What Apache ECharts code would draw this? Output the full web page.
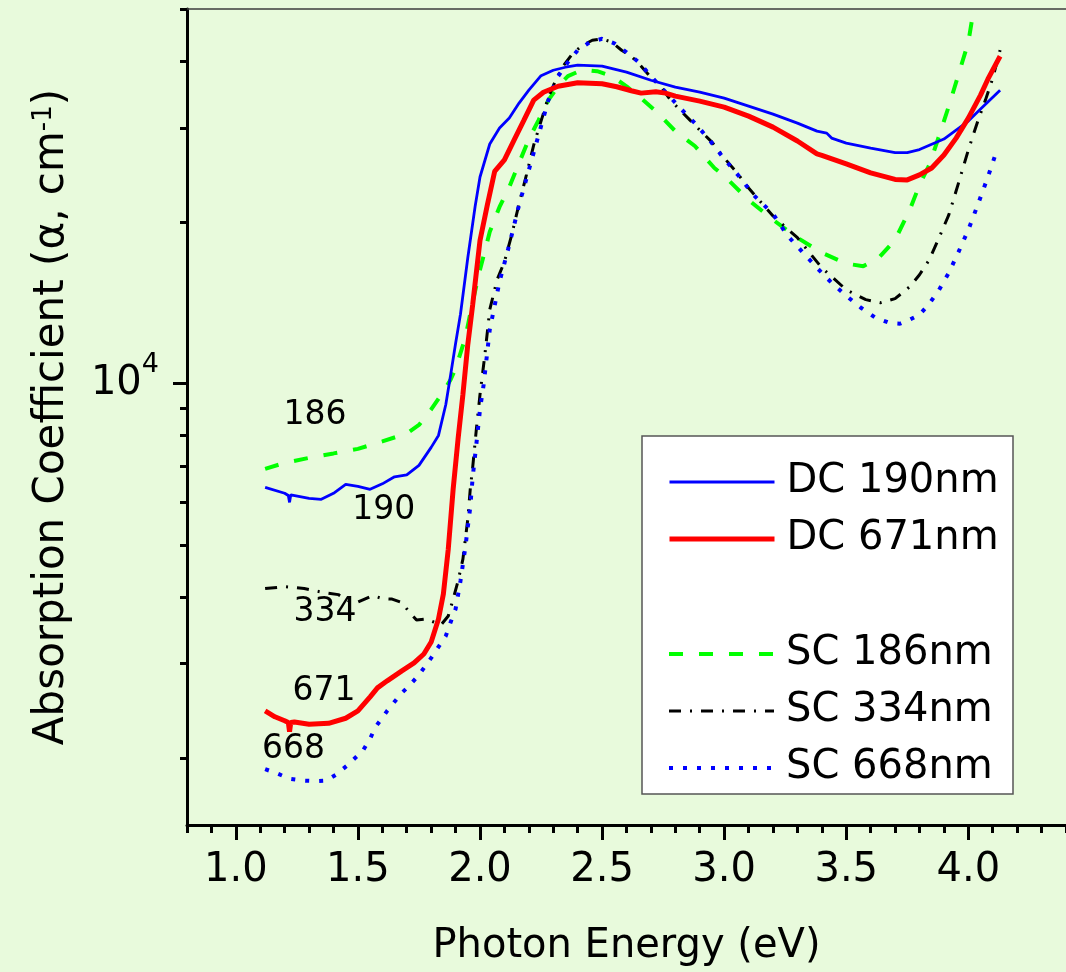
<!DOCTYPE html>
<html>
<head>
<meta charset="utf-8">
<script src="https://cdn.jsdelivr.net/npm/echarts@6/dist/echarts.min.js"></script>
<style>
html,body{margin:0;padding:0;background:#e8fadc;}
#chart{width:1066px;height:972px;}
</style>
</head>
<body>
<div id="chart"></div>
<script>
// ---- data (photon energy in eV, absorption coefficient in cm^-1) ----
const dc190E = [1.12,1.2,1.215,1.22,1.225,1.3,1.35,1.4,1.45,1.5,1.55,1.6,1.65,1.7,1.75,1.8,1.83,1.86,1.88,1.9,1.92,1.95,1.98,2.0,2.04,2.08,2.12,2.16,2.2,2.25,2.3,2.35,2.4,2.5,2.6,2.7,2.8,2.9,3.0,3.1,3.2,3.3,3.38,3.42,3.44,3.5,3.6,3.7,3.75,3.8,3.9,4.0,4.05,4.13];
const dc190A = [6400,6240,6180,6000,6200,6107,6081,6240,6484,6430,6347,6498,6697,6754,7035,7601,8002,9138,10394,11875,13470,17170,21400,24290,27990,29980,31290,33370,35280,37540,38430,38930,39270,39100,38110,36810,35730,34970,34080,32930,31820,30620,29580,29330,28710,28100,27510,26980,26980,27330,28590,30890,32520,35280];

const dc671E = [1.12,1.16,1.2,1.215,1.22,1.225,1.24,1.3,1.38,1.45,1.5,1.55,1.58,1.62,1.68,1.73,1.77,1.8,1.83,1.85,1.87,1.89,1.91,1.93,1.95,1.97,2.0,2.03,2.06,2.1,2.14,2.18,2.22,2.26,2.32,2.4,2.5,2.56,2.62,2.66,2.72,2.76,2.8,2.9,3.0,3.1,3.2,3.3,3.38,3.4,3.5,3.6,3.7,3.75,3.8,3.85,3.9,3.95,4.0,4.05,4.08,4.13];
const dc671A = [2450,2388,2348,2330,2240,2330,2336,2312,2322,2373,2450,2602,2704,2787,2909,3010,3128,3294,3635,4047,4908,6347,7866,9539,11820,14030,18490,21540,24880,26140,28480,31010,33800,34970,35870,36410,36260,35800,35190,34830,35050,34830,34380,33650,32800,31550,30100,28350,26820,26650,25690,24720,24040,23990,24510,25250,26700,28710,31290,34540,36980,40810];

const sc186E = [1.12,1.2,1.3,1.4,1.5,1.6,1.7,1.75,1.8,1.85,1.88,1.9,1.94,1.97,2.0,2.04,2.08,2.12,2.16,2.2,2.24,2.28,2.32,2.36,2.42,2.48,2.54,2.6,2.66,2.72,2.8,2.88,2.96,3.0,3.1,3.2,3.3,3.4,3.5,3.57,3.63,3.7,3.76,3.8,3.84,3.88,3.92,3.96,4.0,4.02,4.05];
const sc186A = [6931,7112,7266,7406,7551,7798,8070,8369,8945,9663,10172,10665,12180,14210,16310,19190,21360,23280,25800,28590,31010,33800,35870,37460,38520,38270,37460,35870,34080,32240,29580,27750,25250,24400,22010,20210,18710,17540,16740,16560,17100,18540,21090,23480,25580,28960,32930,37780,43360,49290,58000];

const sc334E = [1.12,1.2,1.28,1.35,1.42,1.47,1.5,1.56,1.6,1.64,1.68,1.71,1.74,1.78,1.81,1.84,1.87,1.89,1.91,1.93,1.94,1.95,1.96,1.97,1.985,2.0,2.02,2.04,2.07,2.1,2.13,2.16,2.19,2.22,2.25,2.28,2.31,2.34,2.38,2.42,2.46,2.5,2.54,2.58,2.62,2.66,2.7,2.74,2.78,2.82,2.86,2.9,2.95,3.0,3.05,3.1,3.2,3.3,3.4,3.5,3.58,3.64,3.7,3.76,3.8,3.84,3.88,3.92,3.96,4.0,4.04,4.07,4.1,4.13];
const sc334A = [4143,4178,4143,4081,4037,3910,3910,4020,3968,3960,3901,3747,3620,3635,3589,3542,3682,3960,4279,4701,5122,5581,6347,6976,8209,9539,11320,13740,15620,16870,18950,21640,24500,27870,30890,34230,36810,39100,41340,42780,43710,43990,43360,41880,40810,39100,37290,35870,33800,32370,31010,29720,28220,26370,24820,23170,20550,18710,16440,14960,14340,14150,14400,15160,15960,17020,18710,20640,23680,27280,31010,33800,37130,41880];

const sc668E = [1.12,1.17,1.22,1.28,1.33,1.37,1.41,1.46,1.52,1.55,1.57,1.62,1.65,1.68,1.71,1.75,1.8,1.83,1.86,1.88,1.9,1.92,1.94,1.96,1.97,1.985,2.0,2.015,2.04,2.08,2.12,2.16,2.2,2.24,2.28,2.32,2.36,2.4,2.45,2.5,2.55,2.6,2.65,2.7,2.76,2.82,2.88,2.94,3.0,3.06,3.12,3.2,3.26,3.32,3.38,3.44,3.5,3.56,3.62,3.68,3.72,3.76,3.8,3.84,3.88,3.92,3.96,4.0,4.04,4.08,4.12];
const sc668A = [1907,1871,1830,1815,1811,1815,1862,1944,2064,2173,2278,2450,2547,2647,2728,2859,3075,3224,3380,3588,3794,4279,4950,5876,6683,7699,8945,9957,12610,15490,18150,21540,25030,29090,33800,37460,39780,41880,43360,43990,43150,41520,39780,37460,34970,32660,30620,28480,26260,24400,22490,20730,18870,17610,16440,15420,14580,13850,13270,12960,12930,13160,13440,14090,14960,16090,17610,19360,21640,24290,27510];

const seriesNames = ['DC 190nm','DC 671nm','SC 186nm','SC 334nm','SC 668nm'];
const noteLabels = ['186','190','334','671','668'];
const noteE = [1.324,1.606,1.365,1.361,1.236];
const noteA = [8727,5805,3741,2664,2075];

const xMajorTicks = [1.0,1.5,2.0,2.5,3.0,3.5,4.0];
const yMinorTicks = [2000,3000,4000,5000,6000,7000,8000,9000,20000,30000,40000,50000];
const yMajorTicks = [10000];

const xMin = 0.8, xMax = 4.4, yMin = 1500, yMax = 50000;
// --------------------------------------------------------------------

const FONT = 'DejaVu Sans';
const pairs = (xs, ys) => xs.map((x, i) => [x, ys[i]]);

const chart = echarts.init(document.getElementById('chart'), null, {renderer: 'canvas'});

const styles = [
  {color: '#0000ff', width: 2.8, type: 'solid'},
  {color: '#ff0000', width: 5, type: 'solid'},
  {color: '#00ff00', width: 4, type: [14, 16]},
  {color: '#000000', width: 3, type: [12, 9, 2, 9]},
  {color: '#0000ff', width: 4, type: [4, 10]}
];
const dataSets = [pairs(dc190E, dc190A), pairs(dc671E, dc671A), pairs(sc186E, sc186A), pairs(sc334E, sc334A), pairs(sc668E, sc668A)];
const drawOrder = [2, 3, 4, 0, 1];

const lineSeries = drawOrder.map(i => ({
  name: seriesNames[i],
  type: 'line',
  xAxisIndex: 0,
  yAxisIndex: 0,
  data: dataSets[i],
  symbol: 'none',
  showSymbol: false,
  smooth: false,
  clip: true,
  z: 2,
  lineStyle: {color: styles[i].color, width: styles[i].width, type: styles[i].type, cap: 'butt'},
  itemStyle: {color: styles[i].color},
  emphasis: {disabled: true}
}));

const noteSeries = {
  type: 'scatter',
  name: 'notes',
  xAxisIndex: 0,
  yAxisIndex: 0,
  silent: true,
  symbolSize: 1,
  itemStyle: {color: 'rgba(0,0,0,0)', opacity: 1},
  data: noteLabels.map((t, i) => [noteE[i], noteA[i], t]),
  label: {show: true, position: 'inside', formatter: p => p.data[2], color: '#000000', opacity: 1, fontSize: 33, fontFamily: FONT},
  z: 5
};

const legendItem = i => ({
  name: seriesNames[i],
  itemStyle: {color: 'rgba(0,0,0,0)', borderWidth: 0, opacity: 0},
  lineStyle: {color: styles[i].color, width: styles[i].width, type: styles[i].type, cap: 'butt'}
});

const legendCommon = {
  orient: 'vertical',
  left: 667,
  itemWidth: 105,
  itemHeight: 20,
  itemGap: 11,
  padding: 0,
  selectedMode: false,
  textStyle: {fontSize: 40, fontFamily: FONT, color: '#000', lineHeight: 46, padding: [0, 0, 0, 7]}
};

const option = {
  backgroundColor: '#e8fadc',
  animation: false,
  grid: {left: 187, top: 9, width: 883, height: 816, containLabel: false},
  legend: [
    Object.assign({}, legendCommon, {top: 459, data: [0, 1].map(legendItem)}),
    Object.assign({}, legendCommon, {top: 631, data: [2, 3, 4].map(legendItem)})
  ],
  graphic: [{
    type: 'rect',
    shape: {x: 642, y: 436, width: 371, height: 358},
    style: {fill: '#ffffff', stroke: '#555555', lineWidth: 1.5},
    z: 1,
    silent: true
  }],
  xAxis: [
    {
      type: 'value', position: 'bottom', min: xMin, max: xMax, interval: 0.1,
      axisLine: {show: true, lineStyle: {color: '#000', width: 3}},
      axisTick: {show: true, inside: false, length: 8, lineStyle: {color: '#000', width: 3}},
      axisLabel: {show: false},
      splitLine: {show: false},
      name: 'Photon Energy (eV)', nameLocation: 'middle', nameGap: 102,
      nameTextStyle: {fontSize: 40, fontFamily: FONT, color: '#000'}
    },
    {
      type: 'value', position: 'bottom', min: xMin, max: xMax,
      axisLine: {show: false},
      axisTick: {show: true, length: 15, customValues: xMajorTicks, lineStyle: {color: '#000', width: 3}},
      axisLabel: {show: true, customValues: xMajorTicks, margin: 26, formatter: v => v.toFixed(1), fontSize: 40, fontFamily: FONT, color: '#000'},
      splitLine: {show: false}
    },
    {
      type: 'value', position: 'top', min: xMin, max: xMax,
      axisLine: {show: true, lineStyle: {color: '#3c3c3c', width: 1.5}},
      axisTick: {show: false}, axisLabel: {show: false}, splitLine: {show: false}
    }
  ],
  yAxis: [
    {
      type: 'log', logBase: 10, position: 'left', min: yMin, max: yMax,
      axisLine: {show: true, lineStyle: {color: '#000', width: 3}},
      axisTick: {show: false}, axisLabel: {show: false}, splitLine: {show: false},
      name: '{a|Absorption Coefficient (α, cm}{s|-1}{a|)}', nameLocation: 'middle', nameGap: 114,
      nameTextStyle: {color: '#000', fontFamily: FONT, rich: {
        a: {fontSize: 42, fontFamily: FONT, color: '#000'},
        s: {fontSize: 26, fontFamily: FONT, color: '#000', verticalAlign: 'top'}
      }}
    },
    {
      type: 'value', position: 'left', min: Math.log10(yMin), max: Math.log10(yMax),
      axisLine: {show: false},
      axisTick: {show: true, length: 7, customValues: yMinorTicks.map(v => Math.log10(v)), lineStyle: {color: '#000', width: 3}},
      axisLabel: {show: false}, splitLine: {show: false}
    },
    {
      type: 'value', position: 'left', min: Math.log10(yMin), max: Math.log10(yMax),
      axisLine: {show: false},
      axisTick: {show: true, length: 14, customValues: yMajorTicks.map(v => Math.log10(v)), lineStyle: {color: '#000', width: 3}},
      axisLabel: {show: true, customValues: yMajorTicks.map(v => Math.log10(v)), margin: 28,
        formatter: v => '{a|10}{b|' + Math.round(v) + '}',
        rich: {
          a: {fontSize: 40, fontFamily: FONT, color: '#000', lineHeight: 64},
          b: {fontSize: 27, fontFamily: FONT, color: '#000', lineHeight: 27, verticalAlign: 'top'}
        }
      },
      splitLine: {show: false}
    }
  ],
  series: lineSeries.concat([noteSeries])
};

chart.setOption(option);
</script>
</body>
</html>
